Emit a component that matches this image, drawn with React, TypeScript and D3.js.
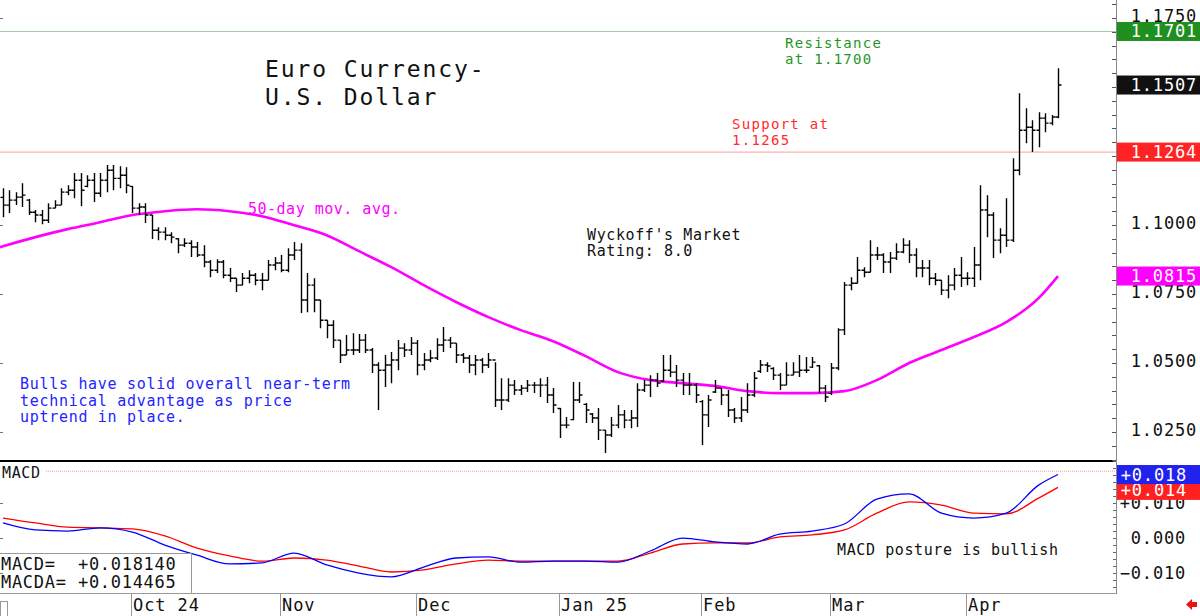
import React, { useRef, useEffect } from "react";
import * as d3 from "d3";

// daily bars, Sep 3 2024 .. Apr 21 2025 (index based)
const highs = [
  1.1133, 1.1126, 1.1119, 1.1151, 1.1094, 1.1054, 1.1054, 1.1079, 1.109, 1.1133,
  1.1144, 1.1188, 1.1188, 1.118, 1.1188, 1.1188, 1.1217, 1.1217, 1.1213, 1.1209,
  1.1141, 1.1079, 1.1079, 1.1036, 1.0992, 1.0992, 1.0974, 1.0952, 1.0952, 1.0945,
  1.0938, 1.0927, 1.0873, 1.0876, 1.0873, 1.0844, 1.0807, 1.0826, 1.0836, 1.0826,
  1.0826, 1.0873, 1.0884, 1.0891, 1.0916, 1.0938, 1.0934, 1.0826, 1.0807, 1.0728,
  1.0655, 1.0655, 1.0583, 1.0601, 1.0608, 1.0605, 1.0605, 1.0554, 1.0503, 1.0529,
  1.054, 1.0583, 1.0572, 1.0594, 1.0583, 1.0536, 1.0547, 1.059, 1.063, 1.0594,
  1.0572, 1.0536, 1.0529, 1.0529, 1.0518, 1.0536, 1.0503, 1.0445, 1.0445, 1.0438,
  1.042, 1.0438, 1.0431, 1.0445, 1.0449, 1.0409, 1.0337, 1.0304, 1.0431, 1.0431,
  1.0355, 1.0319, 1.0337, 1.0257, 1.0304, 1.0348, 1.033, 1.033, 1.0427, 1.0438,
  1.0456, 1.0464, 1.0529, 1.0529, 1.0493, 1.0464, 1.0464, 1.0427, 1.0366, 1.0384,
  1.0438, 1.0409, 1.0402, 1.0337, 1.0377, 1.0427, 1.0467, 1.0511, 1.0503, 1.0485,
  1.0464, 1.0503, 1.0503, 1.0529, 1.0522, 1.0522, 1.0493, 1.042, 1.05, 1.0626,
  1.0793, 1.0811, 1.0884, 1.0847, 1.0945, 1.092, 1.0898, 1.0902, 1.0934, 1.0952,
  1.0945, 1.0916, 1.0873, 1.0873, 1.0826, 1.08, 1.0818, 1.0844, 1.0884, 1.0829,
  1.092, 1.1144, 1.1108, 1.1046, 1.0988, 1.1097, 1.1242, 1.1477, 1.1423, 1.1379,
  1.1408, 1.1405, 1.1398, 1.1568,
];
const lows = [
  1.1028, 1.1043, 1.1072, 1.1065, 1.1036, 1.101, 1.1003, 1.1007, 1.1061, 1.1072,
  1.1108, 1.1097, 1.1068, 1.1137, 1.1083, 1.1101, 1.1119, 1.1126, 1.1133, 1.1115,
  1.1043, 1.1036, 1.1007, 1.0949, 1.0945, 1.0945, 1.0934, 1.0898, 1.092, 1.0884,
  1.0884, 1.0847, 1.0811, 1.0826, 1.0807, 1.0793, 1.0757, 1.0782, 1.0789, 1.0782,
  1.0764, 1.08, 1.0836, 1.0829, 1.0829, 1.0873, 1.0681, 1.0684, 1.0684, 1.0626,
  1.059, 1.0554, 1.05, 1.0529, 1.0529, 1.0536, 1.0536, 1.0464, 1.033, 1.0413,
  1.0427, 1.0474, 1.0522, 1.0529, 1.0456, 1.0474, 1.0503, 1.0511, 1.054, 1.0554,
  1.05, 1.05, 1.0464, 1.0456, 1.0464, 1.0482, 1.0341, 1.033, 1.0359, 1.0384,
  1.0384, 1.0395, 1.0391, 1.0377, 1.0355, 1.0319, 1.0228, 1.0264, 1.0293, 1.0355,
  1.0283, 1.0283, 1.0221, 1.0174, 1.0232, 1.0264, 1.0264, 1.0264, 1.0268, 1.0395,
  1.0377, 1.0413, 1.0431, 1.0449, 1.0413, 1.0384, 1.0384, 1.0355, 1.0203, 1.0268,
  1.0391, 1.0348, 1.0304, 1.0283, 1.0286, 1.0319, 1.0377, 1.0464, 1.0467, 1.0438,
  1.0402, 1.042, 1.0456, 1.0449, 1.0464, 1.0482, 1.0391, 1.0359, 1.0384, 1.0474,
  1.0601, 1.0764, 1.0789, 1.0811, 1.0829, 1.0873, 1.0826, 1.0826, 1.0873, 1.0898,
  1.0862, 1.0811, 1.0811, 1.0782, 1.0782, 1.0746, 1.0735, 1.0764, 1.0775, 1.0782,
  1.0775, 1.08, 1.0956, 1.088, 1.0898, 1.092, 1.0938, 1.118, 1.1296, 1.1264,
  1.1282, 1.1336, 1.1361, 1.1387,
];
const opens = [
  1.11, 1.1072, 1.109, 1.1101, 1.109, 1.1046, 1.1036, 1.1017, 1.1061, 1.1072,
  1.1119, 1.1126, 1.1162, 1.114, 1.1162, 1.1115, 1.1162, 1.1198, 1.1169, 1.118,
  1.114, 1.1061, 1.1065, 1.1036, 1.0981, 1.0974, 1.0963, 1.095, 1.0927, 1.0934,
  1.092, 1.0891, 1.0866, 1.0836, 1.0866, 1.0818, 1.0807, 1.0782, 1.0807, 1.0818,
  1.08, 1.08, 1.0855, 1.0862, 1.0836, 1.0891, 1.0909, 1.0728, 1.0782, 1.0728,
  1.0655, 1.0637, 1.0583, 1.0529, 1.0547, 1.0547, 1.0583, 1.0547, 1.0493, 1.0474,
  1.0493, 1.0511, 1.0554, 1.0547, 1.0572, 1.0493, 1.0511, 1.0518, 1.0565, 1.0583,
  1.0572, 1.0529, 1.0518, 1.0493, 1.0511, 1.0493, 1.0511, 1.0366, 1.0366, 1.042,
  1.0402, 1.0409, 1.042, 1.042, 1.042, 1.0384, 1.0335, 1.0275, 1.0295, 1.0366,
  1.035, 1.0315, 1.0301, 1.0257, 1.0239, 1.0275, 1.0312, 1.0293, 1.0301, 1.0402,
  1.042, 1.0438, 1.0435, 1.0474, 1.0467, 1.0438, 1.042, 1.042, 1.036, 1.0312,
  1.0395, 1.0409, 1.0384, 1.033, 1.0301, 1.033, 1.0384, 1.047, 1.0493, 1.048,
  1.0456, 1.042, 1.0456, 1.0467, 1.0474, 1.0485, 1.049, 1.0409, 1.039, 1.0482,
  1.062, 1.0782, 1.0789, 1.0836, 1.0829, 1.0891, 1.0891, 1.0866, 1.088, 1.0902,
  1.0927, 1.0891, 1.0844, 1.0844, 1.0807, 1.08, 1.0764, 1.0782, 1.0818, 1.0807,
  1.0807, 1.0855, 1.1054, 1.1036, 1.0945, 1.0963, 1.0945, 1.1198, 1.1343, 1.1354,
  1.1343, 1.1387, 1.1369, 1.1391,
];
const closes = [
  1.1072, 1.109, 1.1101, 1.1108, 1.1046, 1.1036, 1.1017, 1.1061, 1.1072, 1.1119,
  1.1126, 1.1162, 1.1126, 1.1162, 1.1115, 1.1162, 1.1198, 1.1169, 1.118, 1.1144,
  1.1061, 1.1065, 1.1036, 1.0981, 1.0974, 1.0963, 1.0956, 1.0927, 1.0934, 1.092,
  1.0891, 1.0866, 1.0836, 1.0866, 1.0818, 1.0807, 1.0782, 1.0807, 1.0818, 1.08,
  1.08, 1.0855, 1.0862, 1.0836, 1.0891, 1.0909, 1.0728, 1.0782, 1.0728, 1.0655,
  1.0637, 1.0583, 1.0529, 1.0547, 1.0547, 1.0583, 1.0547, 1.0493, 1.0474, 1.0493,
  1.0511, 1.0554, 1.0547, 1.0572, 1.0493, 1.0511, 1.0518, 1.0565, 1.0583, 1.0572,
  1.0529, 1.0518, 1.0493, 1.0511, 1.0493, 1.0511, 1.0366, 1.0366, 1.042, 1.0402,
  1.0409, 1.042, 1.042, 1.042, 1.0384, 1.0348, 1.0275, 1.0275, 1.0366, 1.0384,
  1.033, 1.0301, 1.0257, 1.0239, 1.0275, 1.0312, 1.0293, 1.0301, 1.0402, 1.042,
  1.0438, 1.0427, 1.0474, 1.0467, 1.0438, 1.042, 1.042, 1.0384, 1.0312, 1.0366,
  1.0409, 1.0384, 1.033, 1.0301, 1.033, 1.0384, 1.0445, 1.0493, 1.0489, 1.0456,
  1.042, 1.0456, 1.0467, 1.0474, 1.0474, 1.0503, 1.0409, 1.0377, 1.0482, 1.062,
  1.0782, 1.0789, 1.0836, 1.0829, 1.0891, 1.0891, 1.0866, 1.088, 1.0902, 1.0927,
  1.0891, 1.0844, 1.0844, 1.0807, 1.08, 1.0764, 1.0782, 1.0818, 1.0807, 1.0807,
  1.0855, 1.1054, 1.1036, 1.0945, 1.0963, 1.0945, 1.1198, 1.1343, 1.1354, 1.1343,
  1.1387, 1.1369, 1.1391, 1.1507,
];

// 50-day moving average and MACD, read every 5 bars
const sampleIdx = [
  0, 5, 10, 15, 20, 25, 30, 35, 40, 45, 50, 55, 60, 65, 70, 75, 80, 85, 90, 95,
  100, 105, 110, 115, 120, 125, 130, 135, 140, 145, 150, 155, 160, 163,
];
const maVals = [
  1.0923, 1.0956, 1.0985, 1.101, 1.1036, 1.105, 1.1057, 1.105, 1.1032, 1.0999,
  1.0963, 1.0905, 1.0847, 1.0782, 1.0721, 1.0666, 1.0619, 1.0579, 1.0525, 1.0467,
  1.0438, 1.0427, 1.0417, 1.0398, 1.0391, 1.0391, 1.0398, 1.0438, 1.05, 1.0547,
  1.0594, 1.0648, 1.0735, 1.0815,
];
const macdVals = [
  0.0043, 0.0023, 0.002, 0.0029, 0.0017, -0.002, -0.0049, -0.0074, -0.0071, -0.0043,
  -0.0077, -0.01, -0.0111, -0.0083, -0.0057, -0.0054, -0.0069, -0.0066, -0.0066, -0.0069,
  -0.0037, 0.0, -0.0011, -0.0017, 0.0011, 0.002, 0.004, 0.0111, 0.0126, 0.0071,
  0.0057, 0.0071, 0.0151, 0.01814,
];
const signalVals = [
  0.0057, 0.0043, 0.0031, 0.0029, 0.0026, 0.0006, -0.0029, -0.0051, -0.0066, -0.0057,
  -0.0063, -0.008, -0.0097, -0.0091, -0.0074, -0.0063, -0.0066, -0.0066, -0.0066, -0.0066,
  -0.0043, -0.0017, -0.0014, -0.0014, 0.0003, 0.0009, 0.0023, 0.0071, 0.0103, 0.0094,
  0.0071, 0.0069, 0.0114, 0.014465,
];

const monthLabels = ["Oct 24", "Nov", "Dec", "Jan 25", "Feb", "Mar", "Apr"];
const monthStarts = [20, 43, 64, 86, 108, 128, 149];

// 1.1250 and 1.1500 sit under the value tags, only their ticks show
const priceLabels = [1.025, 1.05, 1.075, 1.1, 1.175];
const macdLabels = [-0.01, 0, 0.01];

const resistanceLevel = 1.1701;
const supportLevel = 1.1264;
const macdRefLevel = 0.0191;
const tagValues = [1.1701, 1.1507, 1.1264, 1.0815];
const tagColors = ["#1f8f1f", "#111111", "#ff2323", "#ff00ff"];

const FONT = "'DejaVu Sans Mono', monospace";

const App: React.FC = () => {
  const chartRef = useRef<SVGSVGElement | null>(null);

  useEffect(() => {
    if (!chartRef.current) return;
    d3.select(chartRef.current).selectAll("*").remove();

    const width = 1200;
    const height = 616;
    const axisX = 1116;

    const svg = d3
      .select(chartRef.current)
      .attr("width", width)
      .attr("height", height)
      .style("background", "#fff");

    const x = d3.scaleLinear().domain([0, 163]).range([3, 1058]);
    const y = d3.scaleLinear().domain([1.0145, 1.1815]).range([461, 0]);
    const ym = d3.scaleLinear().domain([-0.0157, 0.022]).range([593, 461]);

    const addText = (
      tx: number,
      ty: number,
      str: string,
      size: number,
      color: string,
      spacing: number,
      anchor = "start"
    ) =>
      svg
        .append("text")
        .attr("x", tx)
        .attr("y", ty)
        .attr("font-family", FONT)
        .attr("font-size", size)
        .attr("letter-spacing", spacing)
        .attr("fill", color)
        .attr("text-anchor", anchor)
        .text(str);

    // support / resistance lines
    svg
      .append("line")
      .attr("x1", 0)
      .attr("x2", axisX)
      .attr("y1", y(resistanceLevel))
      .attr("y2", y(resistanceLevel))
      .attr("stroke", "#a9c7a9")
      .attr("stroke-width", 1);
    svg
      .append("line")
      .attr("x1", 0)
      .attr("x2", axisX)
      .attr("y1", y(supportLevel))
      .attr("y2", y(supportLevel))
      .attr("stroke", "#ff9a9a")
      .attr("stroke-width", 1);

    // moving average
    const maLine = d3
      .line<number>()
      .x((_, i) => x(sampleIdx[i]))
      .y((d) => y(d))
      .curve(d3.curveMonotoneX);
    svg
      .append("path")
      .attr("d", maLine(maVals))
      .attr("fill", "none")
      .attr("stroke", "#ff00ff")
      .attr("stroke-width", 2.6);
    svg
      .append("line")
      .attr("x1", 0)
      .attr("x2", x(0))
      .attr("y1", y(maVals[0]) + 1)
      .attr("y2", y(maVals[0]))
      .attr("stroke", "#ff00ff")
      .attr("stroke-width", 2.6);

    // OHLC bars
    svg
      .append("g")
      .selectAll("path")
      .data(d3.range(highs.length))
      .join("path")
      .attr("d", (i) => {
        const cx = Math.round(x(i)) + 0.5;
        return (
          `M${cx},${y(highs[i])}V${y(lows[i])}` +
          `M${cx - 3},${y(opens[i])}H${cx}` +
          `M${cx},${y(closes[i])}H${cx + 3}`
        );
      })
      .attr("fill", "none")
      .attr("stroke", "#000")
      .attr("stroke-width", 1.4);

    // MACD panel
    svg
      .append("line")
      .attr("x1", 46)
      .attr("x2", axisX)
      .attr("y1", ym(macdRefLevel))
      .attr("y2", ym(macdRefLevel))
      .attr("stroke", "#ff9090")
      .attr("stroke-dasharray", "1,1");

    const mLine = d3
      .line<number>()
      .x((_, i) => x(sampleIdx[i]))
      .y((d) => ym(d))
      .curve(d3.curveMonotoneX);
    svg
      .append("path")
      .attr("d", mLine(signalVals))
      .attr("fill", "none")
      .attr("stroke", "#ff0000")
      .attr("stroke-width", 1.3);
    svg
      .append("path")
      .attr("d", mLine(macdVals))
      .attr("fill", "none")
      .attr("stroke", "#0000ff")
      .attr("stroke-width", 1.3);

    // frame lines
    svg
      .append("line")
      .attr("x1", 0)
      .attr("x2", axisX)
      .attr("y1", 461)
      .attr("y2", 461)
      .attr("stroke", "#000")
      .attr("stroke-width", 2);
    svg
      .append("line")
      .attr("x1", 0)
      .attr("x2", axisX)
      .attr("y1", 593.5)
      .attr("y2", 593.5)
      .attr("stroke", "#999");
    svg
      .append("line")
      .attr("x1", axisX + 0.5)
      .attr("x2", axisX + 0.5)
      .attr("y1", 0)
      .attr("y2", 594)
      .attr("stroke", "#888");

    // price axis ticks
    const minor = d3.range(1.015, 1.181, 0.005);
    svg
      .append("g")
      .selectAll("line")
      .data(minor)
      .join("line")
      .attr("x1", axisX - 4)
      .attr("x2", axisX)
      .attr("y1", (d) => Math.round(y(d)) + 0.5)
      .attr("y2", (d) => Math.round(y(d)) + 0.5)
      .attr("stroke", "#555");
    svg
      .append("g")
      .selectAll("line")
      .data(priceLabels)
      .join("line")
      .attr("x1", 0)
      .attr("x2", 3)
      .attr("y1", (d) => Math.round(y(d)) + 0.5)
      .attr("y2", (d) => Math.round(y(d)) + 0.5)
      .attr("stroke", "#777");
    svg
      .append("g")
      .selectAll("text")
      .data(priceLabels)
      .join("text")
      .attr("x", 1197)
      .attr("y", (d) => y(d) - 2)
      .attr("dominant-baseline", "central")
      .attr("text-anchor", "end")
      .attr("font-family", FONT)
      .attr("font-size", 17)
      .attr("letter-spacing", 0.8)
      .attr("fill", "#111")
      .text((d) => d3.format(".4f")(d));

    // macd axis ticks
    const mMinor = d3.range(-0.014, 0.0221, 0.002);
    svg
      .append("g")
      .selectAll("line")
      .data(mMinor)
      .join("line")
      .attr("x1", axisX - 3)
      .attr("x2", axisX)
      .attr("y1", (d) => Math.round(ym(d)) + 0.5)
      .attr("y2", (d) => Math.round(ym(d)) + 0.5)
      .attr("stroke", "#666");
    svg
      .append("g")
      .selectAll("line")
      .data(macdLabels)
      .join("line")
      .attr("x1", 0)
      .attr("x2", 3)
      .attr("y1", (d) => Math.round(ym(d)) + 0.5)
      .attr("y2", (d) => Math.round(ym(d)) + 0.5)
      .attr("stroke", "#777");
    svg
      .append("g")
      .selectAll("text")
      .data(macdLabels)
      .join("text")
      .attr("x", 1186)
      .attr("y", (d) => ym(d))
      .attr("dominant-baseline", "central")
      .attr("text-anchor", "end")
      .attr("font-family", FONT)
      .attr("font-size", 17)
      .attr("letter-spacing", 0.8)
      .attr("fill", "#111")
      .text((d) => (d > 0 ? "+" : "") + d3.format(".3f")(d));

    // value tags on the price axis
    const tags = svg
      .append("g")
      .selectAll("g")
      .data(tagValues)
      .join("g")
      .attr("transform", (d) => `translate(${axisX + 1},${y(d)})`);
    tags
      .append("rect")
      .attr("x", 0)
      .attr("y", -9.5)
      .attr("width", width - axisX)
      .attr("height", 19)
      .attr("fill", (_, i) => tagColors[i]);
    tags
      .append("text")
      .attr("x", 80)
      .attr("y", 0)
      .attr("dominant-baseline", "central")
      .attr("text-anchor", "end")
      .attr("font-family", FONT)
      .attr("font-size", 17)
      .attr("letter-spacing", 0.8)
      .attr("fill", "#fff")
      .text((d) => d3.format(".4f")(d));

    // macd tags (signal under macd)
    const mTags = [
      { v: signalVals[signalVals.length - 1], c: "#ff2020", dy: 3 },
      { v: macdVals[macdVals.length - 1], c: "#2222ee", dy: 0 },
    ];
    const mt = svg
      .append("g")
      .selectAll("g")
      .data(mTags)
      .join("g")
      .attr("transform", (d) => `translate(${axisX + 1},${ym(d.v) + d.dy})`);
    mt.append("rect")
      .attr("x", 0)
      .attr("y", -9.5)
      .attr("width", width - axisX)
      .attr("height", 19)
      .attr("fill", (d) => d.c);
    mt.append("text")
      .attr("x", 70)
      .attr("y", 0)
      .attr("dominant-baseline", "central")
      .attr("text-anchor", "end")
      .attr("font-family", FONT)
      .attr("font-size", 17)
      .attr("letter-spacing", 0.8)
      .attr("fill", "#fff")
      .text((d) => "+" + d3.format(".3f")(d.v));

    // x axis strip
    svg
      .append("g")
      .selectAll("line")
      .data(monthStarts)
      .join("line")
      .attr("x1", (d) => Math.round(x(d)) - 0.5)
      .attr("x2", (d) => Math.round(x(d)) - 0.5)
      .attr("y1", 594)
      .attr("y2", 616)
      .attr("stroke", "#999");
    svg
      .append("g")
      .selectAll("text")
      .data(monthStarts)
      .join("text")
      .attr("x", (d) => Math.round(x(d)) + 1)
      .attr("y", 611)
      .attr("font-family", FONT)
      .attr("font-size", 17)
      .attr("letter-spacing", 0.9)
      .attr("fill", "#111")
      .text((_, i) => monthLabels[i]);
    svg
      .append("rect")
      .attr("x", 0.5)
      .attr("y", 601.5)
      .attr("width", 7)
      .attr("height", 16)
      .attr("fill", "none")
      .attr("stroke", "#999");
    svg
      .append("path")
      .attr("d", "M1186,604.5L1192,599V602H1197V607H1192V610Z")
      .attr("fill", "#ee1111");

    // MACD readout box
    svg
      .append("path")
      .attr("d", "M0,553.5H191.5V593")
      .attr("fill", "none")
      .attr("stroke", "#999");
    const lastM = macdVals[macdVals.length - 1];
    const lastS = signalVals[signalVals.length - 1];
    addText(1, 570, "MACD=", 17, "#111", 0.7);
    addText(78, 570, "+" + d3.format(".6f")(lastM), 17, "#111", 0.7);
    addText(1, 588, "MACDA=", 17, "#111", 0.7);
    addText(78, 588, "+" + d3.format(".6f")(lastS), 17, "#111", 0.7);
    addText(2, 478, "MACD", 15, "#111", 0.6);

    // annotations
    addText(265, 77, "Euro Currency-", 23, "#111", 1.9);
    addText(265, 105, "U.S. Dollar", 23, "#111", 1.9);
    addText(785, 48, "Resistance", 14, "#1f961f", 1.3);
    addText(785, 64, "at 1.1700", 14, "#1f961f", 1.3);
    addText(732, 129, "Support at", 14, "#ff2a2a", 1.3);
    addText(732, 145, "1.1265", 14, "#ff2a2a", 1.3);
    addText(248, 214, "50-day mov. avg.", 15, "#ff00ff", 0.5);
    addText(587, 240, "Wyckoff's Market", 15, "#111", 0.6);
    addText(587, 256, "Rating: 8.0", 15, "#111", 0.6);
    addText(20, 389, "Bulls have solid overall near-term", 15, "#2424ff", 0.7);
    addText(20, 406, "technical advantage as price", 15, "#2424ff", 0.7);
    addText(20, 422, "uptrend in place.", 15, "#2424ff", 0.7);
    addText(837, 555, "MACD posture is bullish", 15, "#111", 0.6);
  }, []);

  return (
    <div style={{ position: "absolute", left: 0, top: 0 }}>
      <svg ref={chartRef}></svg>
    </div>
  );
};

export default App;
